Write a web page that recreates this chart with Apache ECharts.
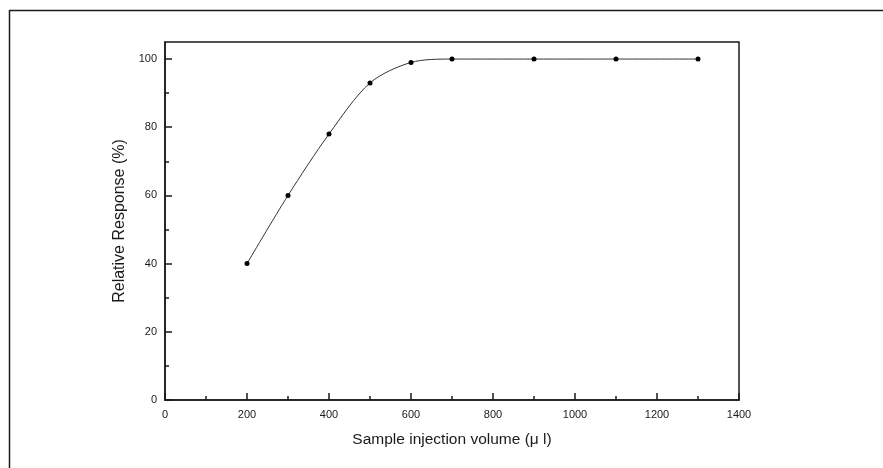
<!DOCTYPE html>
<html>
<head>
<meta charset="utf-8">
<script src="https://cdn.jsdelivr.net/npm/echarts@6/dist/echarts.min.js"></script>
<style>
html,body{margin:0;padding:0;background:#fff;}
#chart{width:883px;height:468px;}
</style>
</head>
<body>
<div id="chart"></div>
<script>
// Data
var volumes = [200, 300, 400, 500, 600, 700, 900, 1100, 1300];
var responses = [40, 60, 78, 93, 99, 100, 100, 100, 100];
var yMajorTicks = [0, 20, 40, 60, 80, 100];
var yMinorTicks = [10, 30, 50, 70, 90];
var xAxisTitle = 'Sample injection volume (\u03bc l)';
var yAxisTitle = 'Relative Response (%)';

var points = volumes.map(function (v, i) { return [v, responses[i]]; });

var font = '"Liberation Sans", Arial, sans-serif';
var ink = '#1a1a1a';

var chart = echarts.init(document.getElementById('chart'), null, {renderer: 'canvas'});
chart.setOption({
  animation: false,
  backgroundColor: '#fff',
  textStyle: {fontFamily: font},
  grid: {
    left: 165, top: 42, right: 144, bottom: 68,
    show: true, borderColor: ink, borderWidth: 1.5, backgroundColor: 'transparent'
  },
  graphic: [
    {type: 'line', silent: true, shape: {x1: 9, y1: 10.5, x2: 883, y2: 10.5}, style: {stroke: ink, lineWidth: 1.5}},
    {type: 'line', silent: true, shape: {x1: 9.5, y1: 10, x2: 9.5, y2: 468}, style: {stroke: ink, lineWidth: 1.5}}
  ],
  xAxis: {
    type: 'value', min: 0, max: 1400, interval: 200,
    name: xAxisTitle, nameLocation: 'middle', nameGap: 32,
    nameTextStyle: {fontSize: 15.5, color: ink, fontFamily: font},
    axisLine: {show: true, lineStyle: {color: ink, width: 1.5}},
    axisTick: {show: true, inside: true, length: 7, lineStyle: {color: ink, width: 1.5}},
    minorTick: {show: true, splitNumber: 2, length: 4, lineStyle: {color: ink, width: 1.5}},
    axisLabel: {color: ink, fontSize: 11, margin: 9, fontFamily: font, formatter: function (v) { return String(v); }},
    splitLine: {show: false}, minorSplitLine: {show: false}
  },
  yAxis: [{
    type: 'value', min: 0, max: 105, position: 'left',
    name: yAxisTitle, nameLocation: 'middle', nameGap: 36, nameRotate: 90,
    nameTextStyle: {fontSize: 16, color: ink, fontFamily: font},
    axisLine: {show: true, lineStyle: {color: ink, width: 1.5}},
    axisTick: {show: true, inside: true, length: 7, customValues: yMajorTicks, lineStyle: {color: ink, width: 1.5}},
    axisLabel: {color: ink, fontSize: 11, margin: 8, customValues: yMajorTicks, fontFamily: font},
    splitLine: {show: false}
  }, {
    type: 'value', min: 0, max: 105, position: 'left',
    axisLine: {show: false},
    axisTick: {show: true, inside: true, length: 4, customValues: yMinorTicks, lineStyle: {color: ink, width: 1.5}},
    axisLabel: {show: false},
    splitLine: {show: false}
  }],
  series: [{
    type: 'line',
    data: points,
    smooth: 0.3,
    symbol: 'circle',
    symbolSize: 5,
    itemStyle: {color: '#000'},
    lineStyle: {color: '#333', width: 1}
  }]
});
</script>
</body>
</html>
